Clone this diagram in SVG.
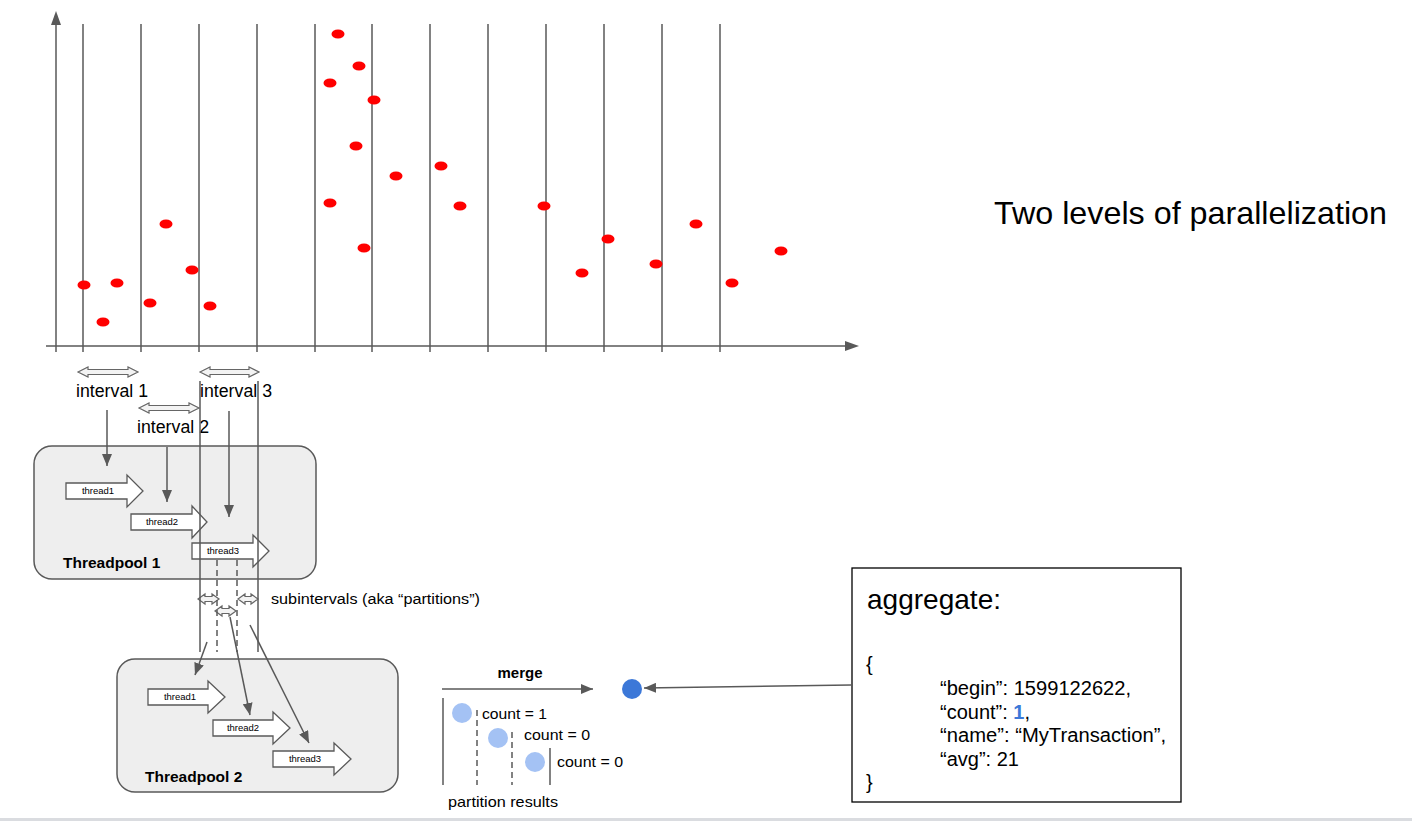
<svg xmlns="http://www.w3.org/2000/svg" width="1412" height="821" viewBox="0 0 1412 821">
<defs>
<style>
text{font-family:"Liberation Sans",Arial,sans-serif;fill:#000}
.ln{stroke:#595959;stroke-width:1.5;fill:none}
.dash{stroke:#595959;stroke-width:1.5;fill:none;stroke-dasharray:6,4}
.dot{fill:#ff0000}
.pool{fill:#eeeeee;stroke:#595959;stroke-width:1.5}
.blk{fill:#ffffff;stroke:#595959;stroke-width:1.3}
.dbl{fill:#f3f3f3;stroke:#666666;stroke-width:1.2}
.tl{font-size:9.5px;text-anchor:middle}
.pt{font-size:15.5px;font-weight:bold}
.lbl{font-size:17.5px}
.sm{font-size:15px}
.js{font-size:20px}
</style>
<marker id="ah" markerWidth="12" markerHeight="10" refX="12" refY="5" orient="auto" markerUnits="userSpaceOnUse">
<path d="M0,0 L12,5 L0,10 Z" fill="#595959"/>
</marker>
</defs>
<rect width="1412" height="821" fill="#ffffff"/>
<rect x="0" y="818" width="1412" height="3" fill="#dadce0"/>

<g id="chart">
<line class="ln" x1="56" y1="352" x2="56" y2="24"/>
<path d="M51,25 L56,11 L61,25 Z" fill="#595959"/>
<line class="ln" x1="46" y1="346" x2="846" y2="346"/>
<path d="M845,341 L859,346 L845,351 Z" fill="#595959"/>
<g class="grid">
<line class="ln" x1="83" y1="24" x2="83" y2="352"/>
<line class="ln" x1="141" y1="24" x2="141" y2="352"/>
<line class="ln" x1="199" y1="24" x2="199" y2="352"/>
<line class="ln" x1="257" y1="24" x2="257" y2="352"/>
<line class="ln" x1="315" y1="24" x2="315" y2="352"/>
<line class="ln" x1="372" y1="24" x2="372" y2="352"/>
<line class="ln" x1="430" y1="24" x2="430" y2="352"/>
<line class="ln" x1="488" y1="24" x2="488" y2="352"/>
<line class="ln" x1="546" y1="24" x2="546" y2="352"/>
<line class="ln" x1="604" y1="24" x2="604" y2="352"/>
<line class="ln" x1="662" y1="24" x2="662" y2="352"/>
<line class="ln" x1="720" y1="24" x2="720" y2="352"/>
</g>
<g class="dots">
<ellipse class="dot" cx="338" cy="34" rx="6.5" ry="4.5"/>
<ellipse class="dot" cx="359" cy="66" rx="6.5" ry="4.5"/>
<ellipse class="dot" cx="330" cy="83" rx="6.5" ry="4.5"/>
<ellipse class="dot" cx="374" cy="100" rx="6.5" ry="4.5"/>
<ellipse class="dot" cx="356" cy="146" rx="6.5" ry="4.5"/>
<ellipse class="dot" cx="396" cy="176" rx="6.5" ry="4.5"/>
<ellipse class="dot" cx="441" cy="166" rx="6.5" ry="4.5"/>
<ellipse class="dot" cx="330" cy="203" rx="6.5" ry="4.5"/>
<ellipse class="dot" cx="460" cy="206" rx="6.5" ry="4.5"/>
<ellipse class="dot" cx="364" cy="248" rx="6.5" ry="4.5"/>
<ellipse class="dot" cx="166" cy="224" rx="6.5" ry="4.5"/>
<ellipse class="dot" cx="192" cy="270" rx="6.5" ry="4.5"/>
<ellipse class="dot" cx="84" cy="285" rx="6.5" ry="4.5"/>
<ellipse class="dot" cx="117" cy="283" rx="6.5" ry="4.5"/>
<ellipse class="dot" cx="150" cy="303" rx="6.5" ry="4.5"/>
<ellipse class="dot" cx="210" cy="306" rx="6.5" ry="4.5"/>
<ellipse class="dot" cx="103" cy="322" rx="6.5" ry="4.5"/>
<ellipse class="dot" cx="544" cy="206" rx="6.5" ry="4.5"/>
<ellipse class="dot" cx="582" cy="273" rx="6.5" ry="4.5"/>
<ellipse class="dot" cx="608" cy="239" rx="6.5" ry="4.5"/>
<ellipse class="dot" cx="656" cy="264" rx="6.5" ry="4.5"/>
<ellipse class="dot" cx="696" cy="224" rx="6.5" ry="4.5"/>
<ellipse class="dot" cx="732" cy="283" rx="6.5" ry="4.5"/>
<ellipse class="dot" cx="781" cy="251" rx="6.5" ry="4.5"/>
</g>
</g>

<text x="994" y="224" style="font-size:31.5px" textLength="393" lengthAdjust="spacingAndGlyphs">Two levels of parallelization</text>

<g id="interval1">
<path class="dbl" d="M78,372 L88,367 L88,369.5 L128,369.5 L128,367 L138,372 L128,377 L128,374.5 L88,374.5 L88,377 Z"/>
<text class="lbl" x="76" y="397" textLength="72" lengthAdjust="spacingAndGlyphs">interval 1</text>
</g>
<g id="interval2">
<path class="dbl" d="M139,408 L149,403 L149,405.5 L189,405.5 L189,403 L199,408 L189,413 L189,410.5 L149,410.5 L149,413 Z"/>
<text class="lbl" x="137" y="433" textLength="72" lengthAdjust="spacingAndGlyphs">interval 2</text>
</g>
<g id="interval3">
<path class="dbl" d="M200,372 L210,367 L210,369.5 L249,369.5 L249,367 L259,372 L249,377 L249,374.5 L210,374.5 L210,377 Z"/>
<text class="lbl" x="200" y="397" textLength="72" lengthAdjust="spacingAndGlyphs">interval 3</text>
</g>

<g id="threadpool1">
<rect class="pool" x="34" y="446" width="282" height="133" rx="18"/>
<text class="pt" x="63" y="568">Threadpool 1</text>
</g>
<g id="tp1-thread1">
<path class="blk" d="M66,483 L127,483 L127,475 L143,491 L127,507 L127,499 L66,499 Z"/>
<text class="tl" x="98" y="494">thread1</text>
</g>
<g id="tp1-thread2">
<path class="blk" d="M131,514 L192,514 L192,506 L207,522 L192,538 L192,530 L131,530 Z"/>
<text class="tl" x="162" y="525">thread2</text>
</g>
<g id="tp1-thread3">
<path class="blk" d="M192,543 L253,543 L253,535 L269,551 L253,567 L253,559 L192,559 Z"/>
<text class="tl" x="223" y="554">thread3</text>
</g>

<g id="subintervals">
<path class="dbl" d="M198,599 L205,594 L205,596.5 L212,596.5 L212,594 L219,599 L212,604 L212,601.5 L205,601.5 L205,604 Z"/>
<path class="dbl" d="M215,611 L222,606 L222,608.5 L229,608.5 L229,606 L236,611 L229,616 L229,613.5 L222,613.5 L222,616 Z"/>
<path class="dbl" d="M238,599 L245,594 L245,596.5 L251,596.5 L251,594 L258,599 L251,604 L251,601.5 L245,601.5 L245,604 Z"/>
<text x="271" y="604" style="font-size:15.5px" textLength="209" lengthAdjust="spacingAndGlyphs">subintervals (aka “partitions”)</text>
</g>

<g id="threadpool2">
<rect class="pool" x="117" y="659" width="281" height="133" rx="18"/>
<text class="pt" x="145" y="782">Threadpool 2</text>
</g>
<g id="tp2-thread1">
<path class="blk" d="M148,689 L208,689 L208,681 L225,697 L208,713 L208,705 L148,705 Z"/>
<text class="tl" x="180" y="700">thread1</text>
</g>
<g id="tp2-thread2">
<path class="blk" d="M213,720 L273,720 L273,712 L290,728 L273,744 L273,736 L213,736 Z"/>
<text class="tl" x="243" y="731">thread2</text>
</g>
<g id="tp2-thread3">
<path class="blk" d="M273,751 L334,751 L334,743 L351,759 L334,775 L334,767 L273,767 Z"/>
<text class="tl" x="305" y="762">thread3</text>
</g>

<g id="connectors">
<line class="ln" x1="200" y1="381" x2="200" y2="652"/>
<line class="ln" x1="258" y1="381" x2="258" y2="652"/>
<line class="dash" x1="217" y1="560" x2="217" y2="652"/>
<line class="dash" x1="237" y1="560" x2="237" y2="652"/>
<line class="ln" x1="107" y1="410" x2="107" y2="466" marker-end="url(#ah)"/>
<line class="ln" x1="167" y1="447" x2="167" y2="502" marker-end="url(#ah)"/>
<line class="ln" x1="229" y1="411" x2="229" y2="517" marker-end="url(#ah)"/>
<line class="ln" x1="207" y1="642" x2="195" y2="675" marker-end="url(#ah)"/>
<line class="ln" x1="230" y1="617" x2="250" y2="715" marker-end="url(#ah)"/>
<line class="ln" x1="250" y1="625" x2="309" y2="743" marker-end="url(#ah)"/>
<line class="ln" x1="442" y1="689" x2="593" y2="689" marker-end="url(#ah)"/>
<line class="ln" x1="851" y1="685" x2="644" y2="688" marker-end="url(#ah)"/>
</g>

<g id="merge">
<text x="520" y="678" style="font-size:15px;font-weight:bold;text-anchor:middle">merge</text>
</g>

<g id="partition-results">
<line class="ln" x1="443" y1="698" x2="443" y2="785"/>
<line class="dash" x1="477" y1="710" x2="477" y2="785"/>
<line class="dash" x1="512" y1="732" x2="512" y2="785"/>
<line class="ln" x1="550" y1="748" x2="550" y2="785"/>
<circle cx="462" cy="713" r="10" fill="#a4c2f4"/>
<circle cx="498" cy="738" r="10" fill="#a4c2f4"/>
<circle cx="535" cy="762" r="10" fill="#a4c2f4"/>
<text class="sm" x="482" y="719" textLength="65" lengthAdjust="spacingAndGlyphs">count = 1</text>
<text class="sm" x="524" y="740" textLength="66" lengthAdjust="spacingAndGlyphs">count = 0</text>
<text class="sm" x="557" y="767" textLength="66" lengthAdjust="spacingAndGlyphs">count = 0</text>
<text class="sm" x="448" y="807" textLength="110" lengthAdjust="spacingAndGlyphs">partition results</text>
</g>

<g id="result">
<circle cx="632" cy="689" r="10" fill="#3c78d8"/>
</g>

<g id="aggregate">
<rect x="852" y="568" width="329" height="234" fill="#ffffff" stroke="#000000" stroke-width="1.3"/>
<text x="867" y="609" style="font-size:27.5px" textLength="134" lengthAdjust="spacingAndGlyphs">aggregate:</text>
<text class="js" x="866" y="671">{</text>
<text class="js" x="940" y="695" textLength="191" lengthAdjust="spacingAndGlyphs">“begin”: 1599122622,</text>
<text class="js" x="940" y="718.5">“count”: <tspan style="fill:#3c78d8;font-weight:bold">1</tspan>,</text>
<text class="js" x="940" y="742" textLength="226" lengthAdjust="spacingAndGlyphs">“name”: “MyTransaction”,</text>
<text class="js" x="940" y="765.5">“avg”: 21</text>
<text class="js" x="866" y="789">}</text>
</g>
</svg>
